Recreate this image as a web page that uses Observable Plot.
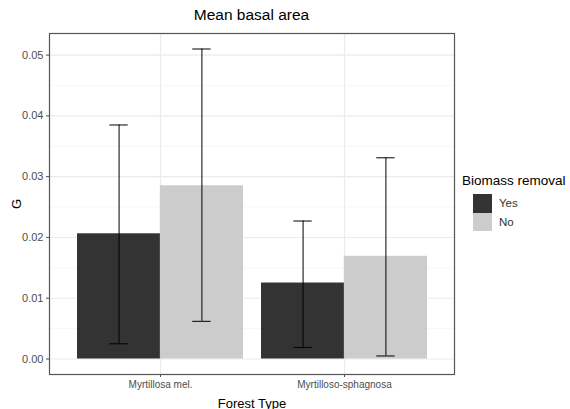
<!DOCTYPE html>
<html>
<head>
<meta charset="utf-8">
<script src="https://cdn.jsdelivr.net/npm/d3@7"></script>
<script src="https://cdn.jsdelivr.net/npm/@observablehq/plot@0.6"></script>
<style>
  body { margin: 0; background: #fff; font-family: "Liberation Sans", Arial, sans-serif; }
  #wrap { position: relative; width: 570px; height: 409px; overflow: hidden; }
  #title { position: absolute; left: 49px; width: 405px; top: 6px; text-align: center; font-size: 15.5px; color: #000; }
  #legend { position: absolute; left: 462px; top: 173px; font-size: 13.5px; color: #000; }
  .sw { display: flex; align-items: center; height: 18.5px; font-size: 11.5px; color: #333; }
  .sw span.box { display: inline-block; width: 19px; height: 18.5px; margin-left: 11px; margin-right: 7px; }
</style>
</head>
<body>
<div id="wrap">
  <div id="title">Mean basal area</div>
  <div id="legend"></div>
</div>
<script>
const forestTypes = ["Myrtillosa mel.", "Myrtilloso-sphagnosa"];
const removalLevels = ["Yes", "No"];
const removalColors = ["#333333", "#cccccc"];
const meanYes = [0.0206, 0.0125];
const meanNo = [0.0285, 0.0169];
const lowerYes = [0.0025, 0.0019];
const lowerNo = [0.0062, 0.0005];
const upperYes = [0.0385, 0.0227];
const upperNo = [0.0510, 0.0331];
const yTicks = [0.00, 0.01, 0.02, 0.03, 0.04, 0.05];
const yMinor = [0.005, 0.015, 0.025, 0.035, 0.045];

const rows = [];
forestTypes.forEach((t, i) => {
  rows.push({type: t, removal: "Yes", mean: meanYes[i], lo: lowerYes[i], hi: upperYes[i]});
  rows.push({type: t, removal: "No", mean: meanNo[i], lo: lowerNo[i], hi: upperNo[i]});
});
const yesRows = rows.filter(d => d.removal === "Yes");
const noRows = rows.filter(d => d.removal === "No");

const W = 570, H = 409, mL = 49, mR = 116, mT = 33, mB = 35;
const step = (W - mL - mR) / 2.2;
const bw = step * 0.9;
const q = bw / 4;
const cap = 9;

const chart = Plot.plot({
  width: W, height: H,
  marginLeft: mL, marginRight: mR, marginTop: mT, marginBottom: mB,
  style: {fontFamily: "Liberation Sans, Arial, sans-serif", fontSize: "11px", color: "#4d4d4d", background: "transparent"},
  x: {domain: forestTypes, paddingInner: 0.1, paddingOuter: 0.15},
  y: {domain: [-0.00255, 0.05355], nice: false},
  color: {domain: removalLevels, range: removalColors},
  marks: [
    Plot.ruleY(yMinor, {stroke: "#f2f2f2", strokeWidth: 0.6}),
    Plot.ruleY(yTicks, {stroke: "#ebebeb", strokeWidth: 1.1}),
    Plot.ruleX(forestTypes, {x: d => d, stroke: "#ebebeb", strokeWidth: 1.1}),
    Plot.barY(yesRows, {x: "type", y: "mean", fill: "removal", insetRight: bw / 2}),
    Plot.barY(noRows, {x: "type", y: "mean", fill: "removal", insetLeft: bw / 2}),
    Plot.ruleX(yesRows, {x: "type", y1: "lo", y2: "hi", dx: -q, stroke: "#000", strokeWidth: 1}),
    Plot.ruleX(noRows, {x: "type", y1: "lo", y2: "hi", dx: q, stroke: "#000", strokeWidth: 1}),
    Plot.tickY(yesRows, {x: "type", y: "lo", insetLeft: q - cap, insetRight: bw - q - cap, stroke: "#000", strokeWidth: 1}),
    Plot.tickY(yesRows, {x: "type", y: "hi", insetLeft: q - cap, insetRight: bw - q - cap, stroke: "#000", strokeWidth: 1}),
    Plot.tickY(noRows, {x: "type", y: "lo", insetLeft: bw - q - cap, insetRight: q - cap, stroke: "#000", strokeWidth: 1}),
    Plot.tickY(noRows, {x: "type", y: "hi", insetLeft: bw - q - cap, insetRight: q - cap, stroke: "#000", strokeWidth: 1}),
    Plot.axisY({ticks: yTicks, tickFormat: d3.format(".2f"), tickSize: 3, tickPadding: 3, label: "G", labelAnchor: "center", labelArrow: "none", labelOffset: 38, fontSize: 11}),
    Plot.axisX({tickSize: 3, tickPadding: 3, label: "Forest Type", labelAnchor: "center", labelArrow: "none", labelOffset: 33, fontSize: 10}),
    Plot.frame({stroke: "#555", strokeWidth: 1.2})
  ]
});
chart.style.position = "absolute";
chart.style.left = "0px";
chart.style.top = "0px";
document.getElementById("wrap").prepend(chart);

chart.querySelectorAll("[aria-label='y-axis label'] text, [aria-label='x-axis label'] text").forEach(t => {
  t.style.fill = "#000";
  t.style.fontSize = "13px";
});

const legend = document.getElementById("legend");
const lt = document.createElement("div");
lt.textContent = "Biomass removal";
lt.style.marginBottom = "6px";
legend.appendChild(lt);
removalLevels.forEach((r, i) => {
  const row = document.createElement("div");
  row.className = "sw";
  const box = document.createElement("span");
  box.className = "box";
  box.style.background = removalColors[i];
  row.appendChild(box);
  const s = document.createElement("span");
  s.textContent = r;
  row.appendChild(s);
  legend.appendChild(row);
});
</script>
</body>
</html>
